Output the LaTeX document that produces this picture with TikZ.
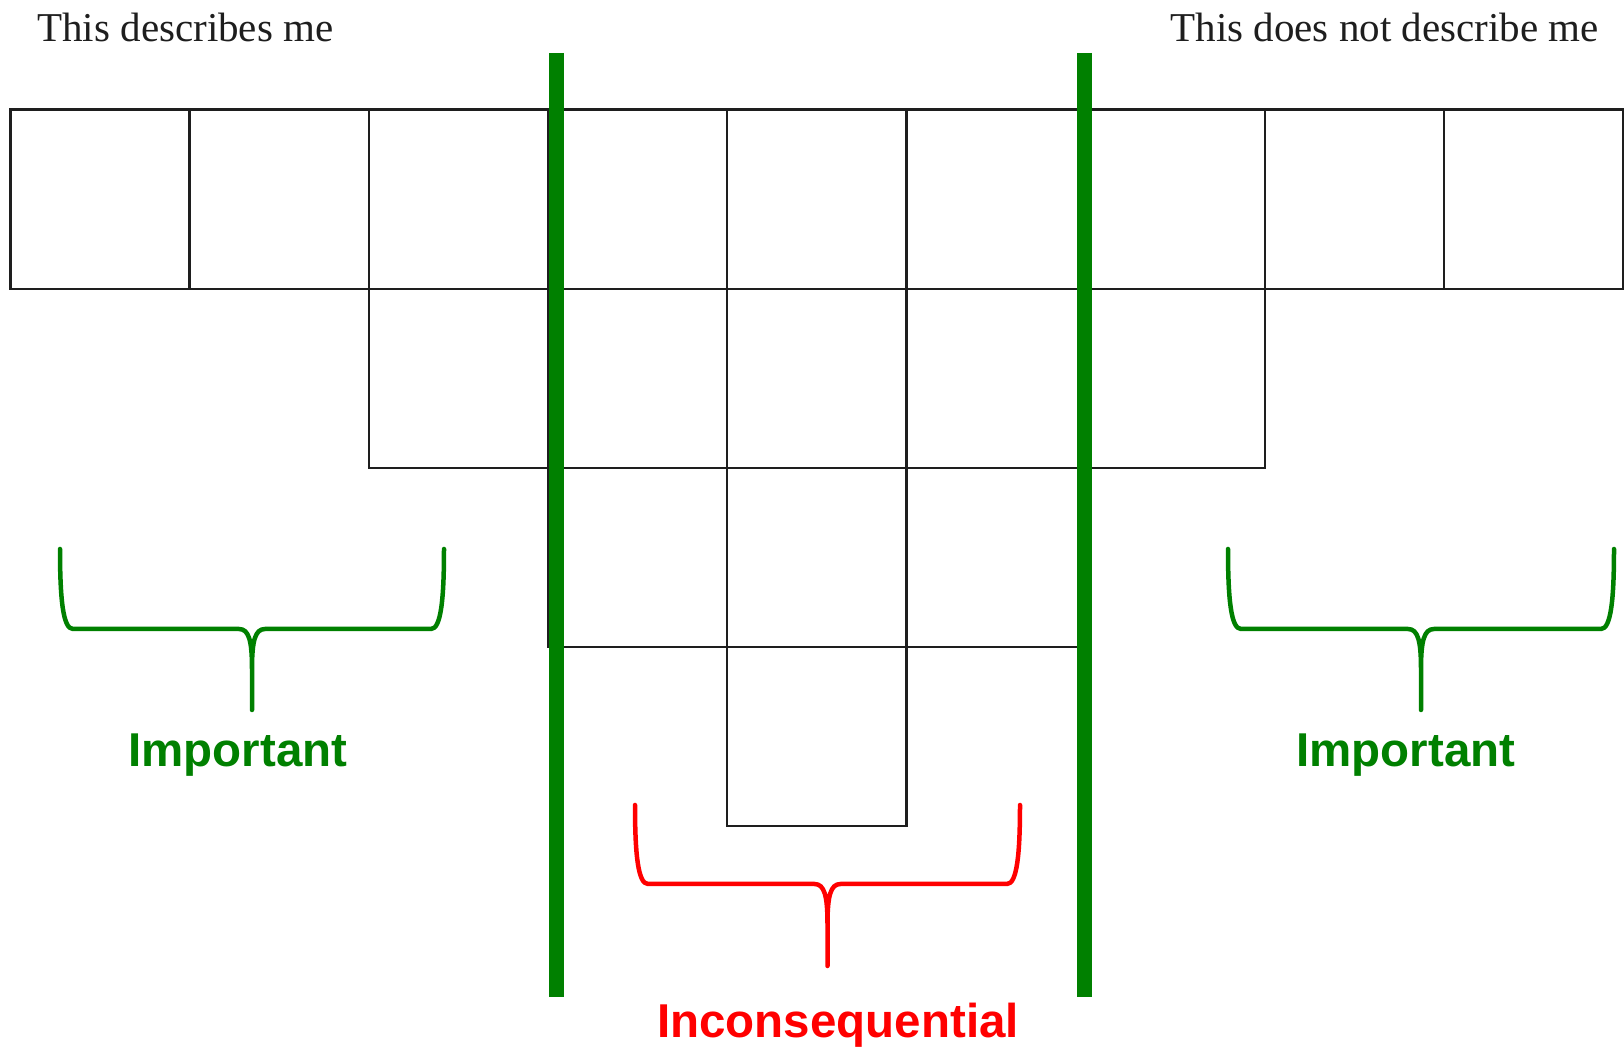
\documentclass[tikz,border=0pt]{standalone}
\usepackage{fontspec}
\setmainfont{Liberation Serif}
\newfontfamily\labelfont{Liberation Sans}
\definecolor{brgreen}{RGB}{0,128,0}
\definecolor{brred}{RGB}{255,0,0}
\definecolor{gridc}{RGB}{30,30,30}
\newcommand\mybrace[6]{% #1 colour, #2 left, #3 right, #4 top, #5 bar, #6 tip
  \pgfmathsetmacro\bm{(#2+#3)/2}
  \draw[bracel, draw=#1] (#2,#4) .. controls (#2,#5-30) and (#2+3,#5) .. (#2+13,#5)
    -- (\bm-13,#5) .. controls (\bm-3,#5) and (\bm,#5+12) .. (\bm,#5+40) -- (\bm,#6)
    (\bm,#5+40) .. controls (\bm,#5+12) and (\bm+3,#5) .. (\bm+13,#5)
    -- (#3-13,#5) .. controls (#3-3,#5) and (#3,#5-30) .. (#3,#4);
}
\begin{document}
\begin{tikzpicture}[x=0.5pt,y=-0.5pt,
  cell/.style={draw=gridc, line width=1.2pt},
  divider/.style={draw=brgreen, line width=7.5pt},
  bracel/.style={line width=2.25pt, line cap=round, line join=round},
  toptext/.style={font=\fontsize{20.5}{24}\selectfont, text=gridc, inner sep=0pt},
  bigtext/.style={font=\labelfont\bfseries\fontsize{23.75}{28}\selectfont, inner sep=0pt}]
\useasboundingbox (0,0) rectangle (1624,1047);
\fill[white] (0,0) rectangle (1624,1047);
% grid
\foreach \i in {0,...,8} \draw[cell] ({10.4+179.2*\i},109.5) rectangle ++(179.2,179.5);
\foreach \i in {2,...,6} \draw[cell] ({10.4+179.2*\i},289) rectangle ++(179.2,179);
\foreach \i in {3,4,5} \draw[cell] ({10.4+179.2*\i},468) rectangle ++(179.2,179);
\foreach \i in {4} \draw[cell] ({10.4+179.2*\i},647) rectangle ++(179.2,179);
% dividers
\draw[divider] (556,53) -- (556,997);
\draw[divider] (1084,53) -- (1084,997);
% headings
\node[toptext, anchor=base west] (describes) at (37,41.5) {This describes me};
\node[toptext, anchor=base east] (notdescribes) at (1599,41.5) {This does not describe me};
% braces
\mybrace{brgreen}{60}{444}{549}{629}{710}
\mybrace{brgreen}{1228}{1614}{549}{629}{710}
\mybrace{brred}{635}{1020}{805}{884}{966}
% labels
\node[bigtext, text=brgreen, anchor=base] (impl) at (238,766.7) {Important};
\node[bigtext, text=brgreen, anchor=base] (impr) at (1406,766.7) {Important};
\node[bigtext, text=brred, anchor=base] (incons) at (838,1037) {Inconsequential};
\end{tikzpicture}
\end{document}
